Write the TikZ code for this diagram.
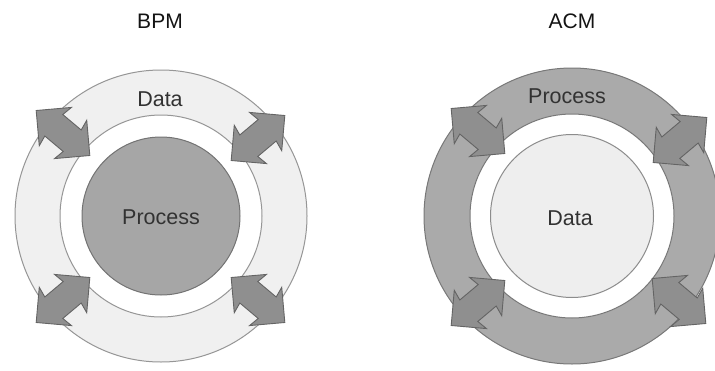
\documentclass[tikz,border=0pt]{standalone}
\usepackage{fontspec}
\setmainfont{Liberation Sans}
\definecolor{ringL}{RGB}{240,240,240}
\definecolor{ringLb}{RGB}{150,150,150}
\definecolor{procL}{RGB}{166,166,166}
\definecolor{procLb}{RGB}{115,115,115}
\definecolor{arrF}{RGB}{143,143,143}
\definecolor{arrB}{RGB}{100,100,100}
\definecolor{ringR}{RGB}{170,170,170}
\definecolor{ringRb}{RGB}{120,120,120}
\definecolor{dataR}{RGB}{238,238,238}
\definecolor{dataRb}{RGB}{140,140,140}
\definecolor{txt}{RGB}{50,50,50}
\definecolor{ttl}{RGB}{20,20,20}
\tikzset{
  disc/.style={circle, inner sep=0pt, outer sep=0pt, line width=1pt},
  lbl/.style={font=\fontsize{21.5}{24}\selectfont, text=txt, inner sep=0pt},
  ttlstyle/.style={font=\fontsize{21}{24}\selectfont, text=ttl, inner sep=0pt},
  arrowstyle/.style={fill=arrF, draw=arrB, line width=0.9pt, line join=miter}
}
\newcommand\dblarr[3]{%
  \filldraw[arrowstyle, shift={(#1,#2)}, rotate=#3]
    (35,0) -- (10,25) -- (12,14) -- (-12,14) -- (-10,25) -- (-35,0)
    -- (-10,-25) -- (-12,-14) -- (12,-14) -- (10,-25) -- cycle;}
\begin{document}
\begin{tikzpicture}[x=1pt, y=-1pt]
\useasboundingbox (0,0) rectangle (715,370);
\clip (0,0) rectangle (715,370);
\fill[white] (0,0) rectangle (715,370);
% ---------- BPM ----------
\node[disc, minimum size=292pt, fill=ringL, draw=ringLb] (bpmOuter) at (161,216) {};
\node[disc, minimum size=202pt, fill=white, draw=ringLb] (bpmGap) at (161,216) {};
\node[disc, minimum size=158pt, fill=procL, draw=procLb] (bpmInner) at (161,216) {};
\dblarr{63}{133}{140}
\dblarr{258}{138}{40}
\dblarr{258}{300}{-40}
\dblarr{63}{300}{220}
\node[ttlstyle] (bpmTitle) at (160,21) {BPM};
\node[lbl] (bpmData) at (160,99) {Data};
\node[lbl] (bpmProcess) at (161,217) {Process};
% ---------- ACM ----------
\node[disc, minimum size=296pt, fill=ringR, draw=ringRb] (acmOuter) at (572,216) {};
\node[disc, minimum size=204pt, fill=white, draw=ringRb] (acmGap) at (572,216) {};
\node[disc, minimum size=163pt, fill=dataR, draw=dataRb] (acmInner) at (572,216) {};
\dblarr{478}{131}{140}
\dblarr{680}{140}{40}
\dblarr{679}{301}{-40}
\dblarr{478}{303}{220}
\node[ttlstyle] (acmTitle) at (572,21) {ACM};
\node[lbl] (acmProcess) at (567,96) {Process};
\node[lbl] (acmData) at (570,218) {Data};
\end{tikzpicture}
\end{document}
